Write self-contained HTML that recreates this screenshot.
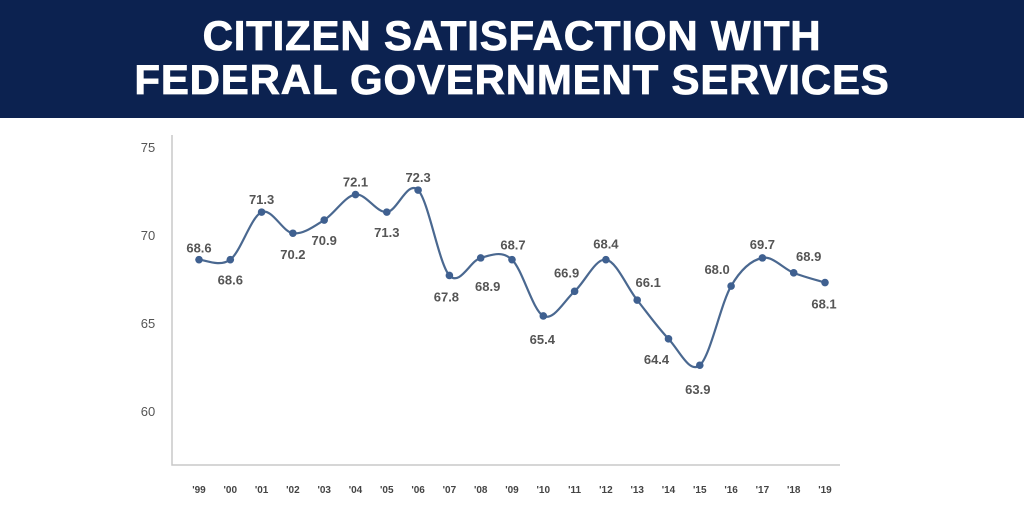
<!DOCTYPE html>
<html><head><meta charset="utf-8"><style>
body{margin:0;width:1024px;height:512px;background:#fff;overflow:hidden;font-family:"Liberation Sans",sans-serif}
#hdr{position:absolute;left:0;top:0;width:1024px;height:118px;background:#0c2250;color:#fff;text-align:center;font-weight:bold;font-size:42px;line-height:44px;padding-top:14px;box-sizing:border-box;letter-spacing:0.8px;-webkit-text-stroke:0.8px #fff}
svg{position:absolute;left:0;top:0}
</style></head><body>
<div id="hdr">CITIZEN SATISFACTION WITH<br>FEDERAL GOVERNMENT SERVICES</div>
<svg id="c" width="1024" height="512"></svg>
<script>
const years=["'99","'00","'01","'02","'03","'04","'05","'06","'07","'08","'09","'10","'11","'12","'13","'14","'15","'16","'17","'18","'19"];
const values=[68.6,68.6,71.3,70.1,70.85,72.3,71.3,72.55,67.7,68.7,68.6,65.4,66.8,68.6,66.3,64.1,62.6,67.1,68.7,67.85,67.3];
const labels=["68.6","68.6","71.3","70.2","70.9","72.1","71.3","72.3","67.8","68.9","68.7","65.4","66.9","68.4","66.1","64.4","63.9","68.0","69.7","68.9","68.1"];
const yTicks=[60,65,70,75];
const off=[[0,-11],[0,21],[0,-12],[0,22],[0,21],[0,-12],[0,21],[0,-12],[-3,22],[7,29],[1,-14],[-1,24],[-8,-18],[0,-15],[11,-17],[-12,21],[-2,25],[-14,-16],[0,-13],[15,-16],[-1,22]];
const svg=document.getElementById('c'),NS='http://www.w3.org/2000/svg';
const X=i=>199+i*31.3, Y=v=>411-(v-60)*17.6;
function mk(t,a,p){const e=document.createElementNS(NS,t);for(const k in a)e.setAttribute(k,a[k]);(p||svg).appendChild(e);return e;}
const ax=mk('path',{d:'M172 135V465H840',stroke:'#c8c8c8','stroke-width':1.5,fill:'none'});


yTicks.forEach(t=>{const e=mk('text',{x:148,y:Y(t)+5,'text-anchor':'middle','font-size':13,fill:'#555'});e.textContent=t;

});
years.forEach((y,i)=>{const e=mk('text',{x:X(i),y:493,'text-anchor':'middle','font-size':10,fill:'#444','font-weight':'bold'});e.textContent=y;

});
const P=values.map((v,i)=>[X(i),Y(v)]);
let d='M'+P[0][0]+' '+P[0][1];
for(let i=0;i<P.length-1;i++){const p0=P[Math.max(0,i-1)],p1=P[i],p2=P[i+1],p3=P[Math.min(P.length-1,i+2)];
d+=`C${p1[0]+(p2[0]-p0[0])/6} ${p1[1]+(p2[1]-p0[1])/6} ${p2[0]-(p3[0]-p1[0])/6} ${p2[1]-(p3[1]-p1[1])/6} ${p2[0]} ${p2[1]}`;}
const ln=mk('path',{d:d,stroke:'#4a6890','stroke-width':2.2,fill:'none'});


P.forEach((p,i)=>{const c=mk('circle',{cx:p[0],cy:p[1],r:3.8,fill:'#3f6090'});


const t=mk('text',{x:p[0]+off[i][0],y:p[1]+off[i][1]+4,'text-anchor':'middle','font-size':13,fill:'#555','font-weight':'bold'});t.textContent=labels[i];

});
</script>
</body></html>
